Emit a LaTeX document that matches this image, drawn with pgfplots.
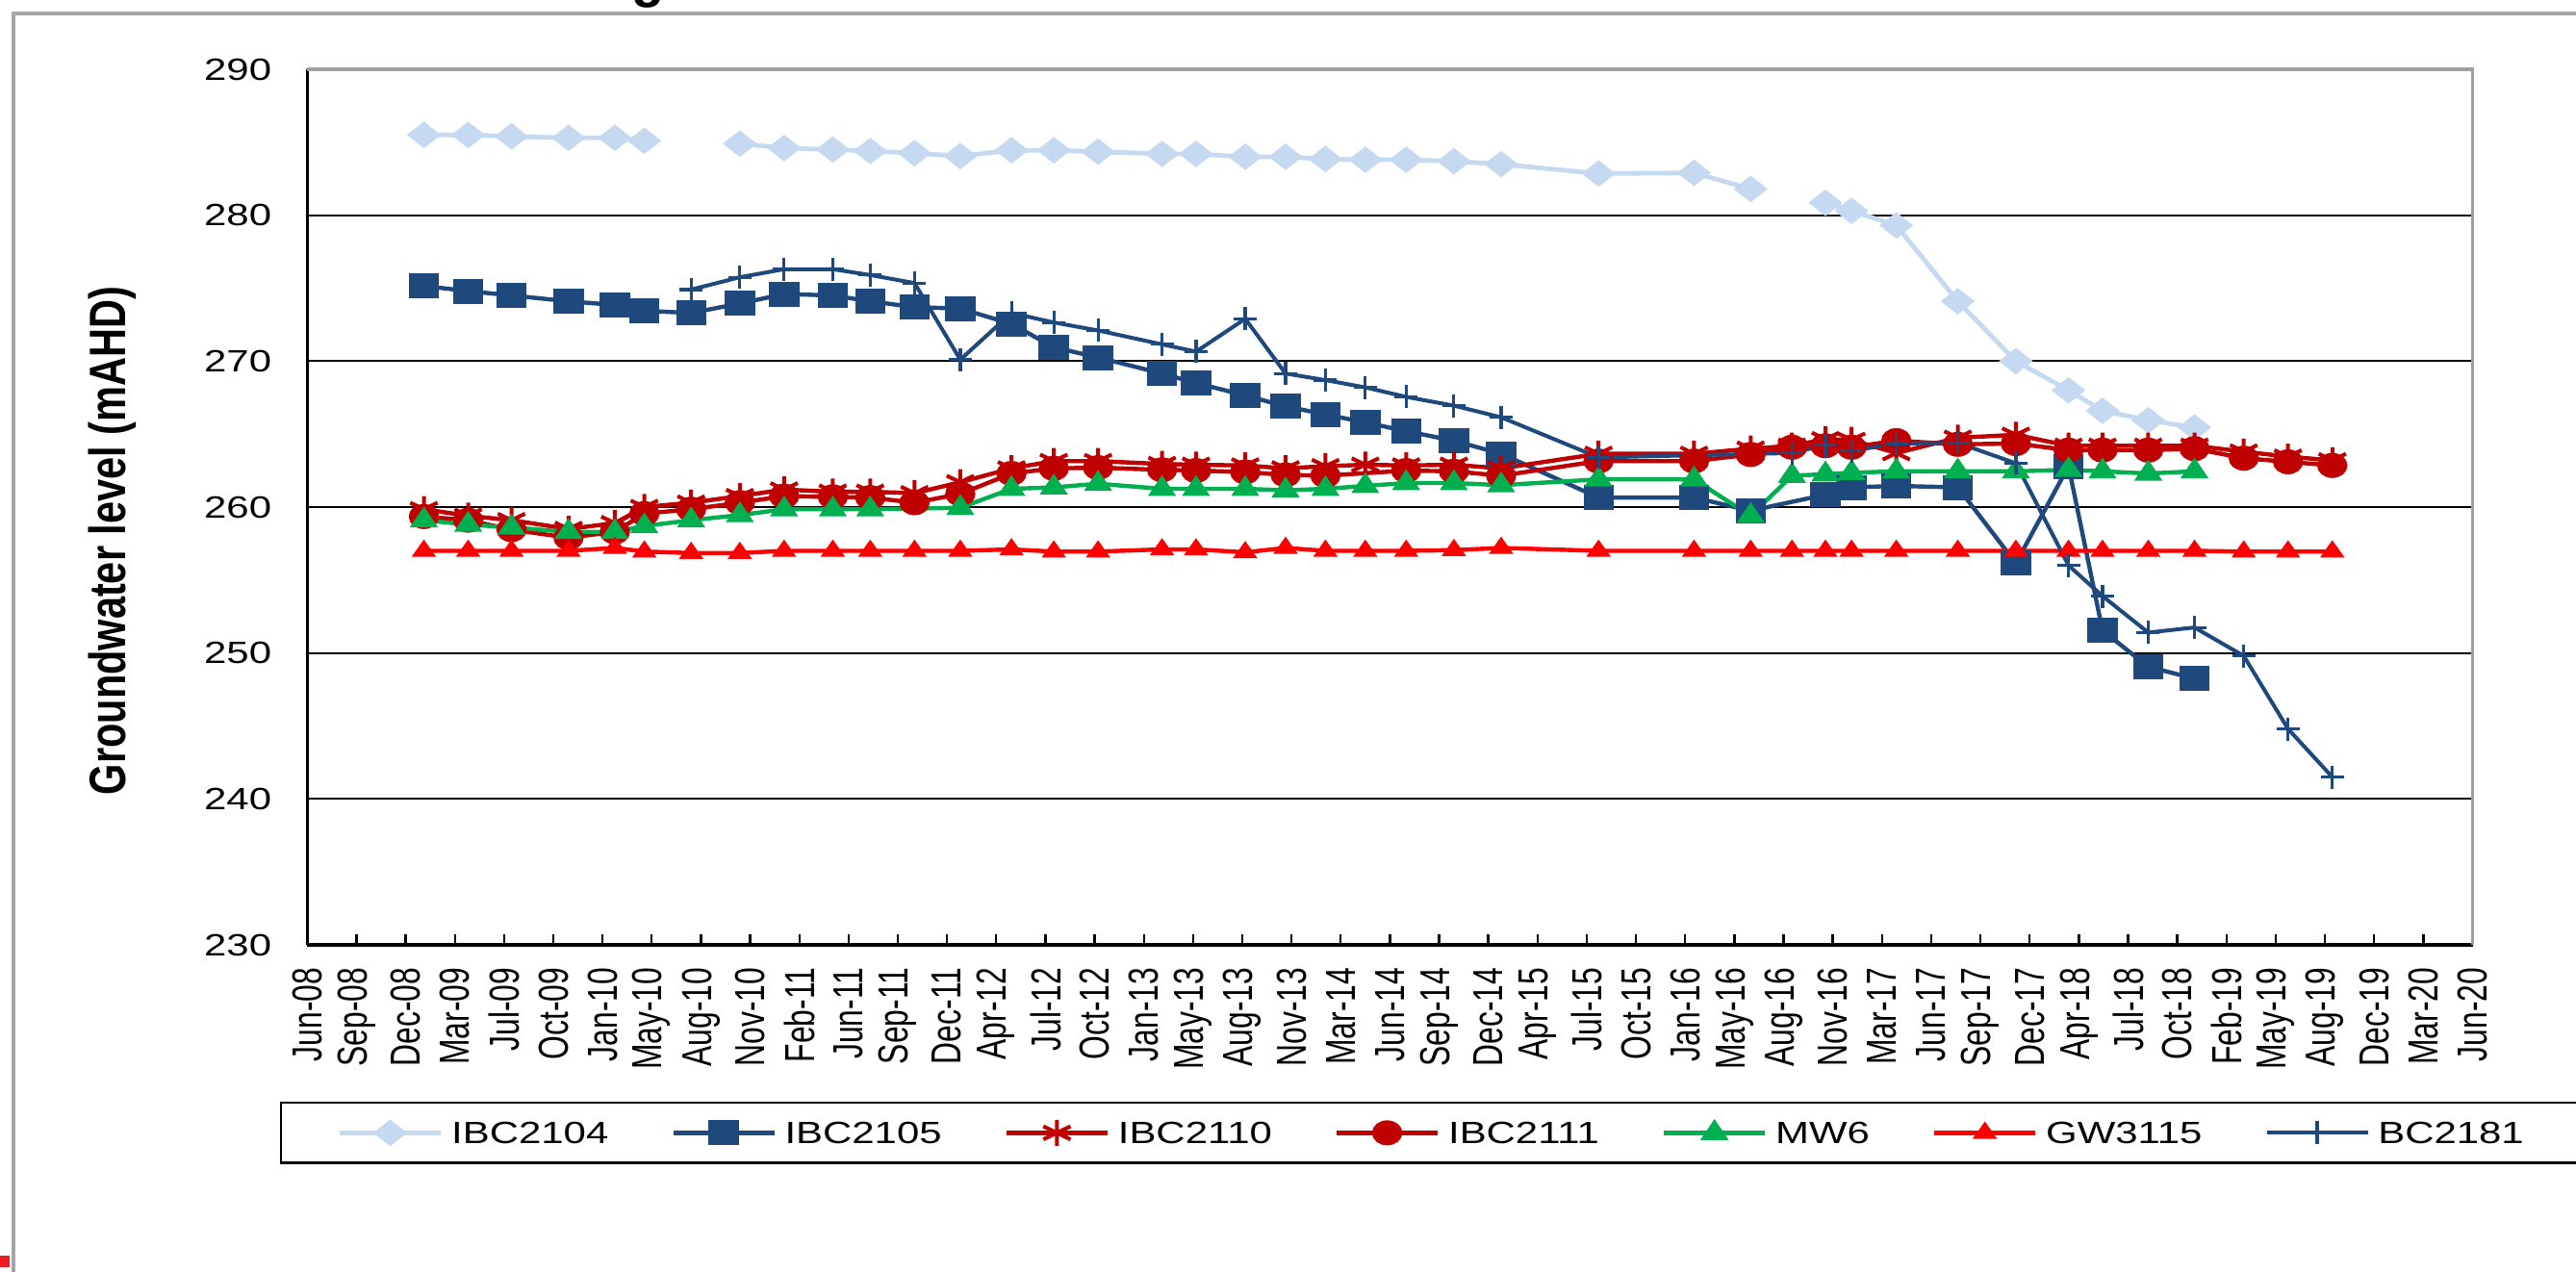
\documentclass[border=0pt]{standalone}
\usepackage{fontspec}
\setmainfont{Liberation Sans}
\newfontfamily\hfont[FakeStretch=1.31]{Liberation Sans}
\newfontfamily\vfont[FakeStretch=0.73]{Liberation Sans}
\newfontfamily\lfont[FakeStretch=0.78]{Liberation Sans}
\usepackage{pgfplots}
\pgfplotsset{compat=1.18}
\definecolor{cA}{RGB}{197,217,241}
\definecolor{cB}{RGB}{31,73,125}
\definecolor{cC}{RGB}{192,0,0}
\definecolor{cE}{RGB}{0,176,80}
\definecolor{cF}{RGB}{255,0,0}
\definecolor{frameg}{RGB}{160,160,160}
\definecolor{outerg}{RGB}{166,166,166}
\definecolor{redmark}{RGB}{237,28,36}
\begin{document}
\begin{tikzpicture}
\useasboundingbox (0,0) rectangle (669.25bp,330.5bp);
\fill[white] (0,0) rectangle (669.25bp,330.5bp);
\draw[outerg, line width=1bp] (3.4bp,0) -- (3.4bp,327.1bp) -- (669.25bp,327.1bp);
\fill[redmark] (0,1.25bp) rectangle (2.5bp,4.25bp);
\node[anchor=south, inner sep=0pt, outer sep=0pt, font=\bfseries\fontsize{14bp}{16bp}\selectfont] at (168.5bp,328.3bp) {g};
\begin{axis}[
  at={(79.825bp,85bp)}, anchor=south west,
  scale only axis, width=562.55bp, height=227.5bp,
  xmin=0, xmax=44, ymin=230, ymax=290,
  axis x line*=bottom, axis y line*=left,
  axis line style={black, line width=0.9bp},
  clip=false,
  unbounded coords=jump,
  xtick={0,...,44},
  xticklabels={Jun-08,Sep-08,Dec-08,Mar-09,Jul-09,Oct-09,Jan-10,May-10,Aug-10,Nov-10,Feb-11,Jun-11,Sep-11,Dec-11,Apr-12,Jul-12,Oct-12,Jan-13,May-13,Aug-13,Nov-13,Mar-14,Jun-14,Sep-14,Dec-14,Apr-15,Jul-15,Oct-15,Jan-16,May-16,Aug-16,Nov-16,Mar-17,Jun-17,Sep-17,Dec-17,Apr-18,Jul-18,Oct-18,Feb-19,May-19,Aug-19,Dec-19,Mar-20,Jun-20},
  tick align=inside,
  major tick length=2.75bp,
  xtick style={black, line width=0.6bp},
  xticklabel style={rotate=90, anchor=east, inner sep=0pt, font=\vfont\fontsize{10.9bp}{12bp}\selectfont},
  xticklabel shift=5.75bp,
  ytick={230,240,...,290},
  ytick style={draw=none},
  /pgf/number format/assume math mode=true,
  yticklabel style={anchor=east, inner sep=0pt, font=\hfont\fontsize{8bp}{9.6bp}\selectfont},
  yticklabel shift=9.1bp,
  ymajorgrids,
  major grid style={black, line width=0.5bp},
  ylabel={Groundwater level (mAHD)},
  ylabel style={at={(axis description cs:-0.0899,0.4615)}, anchor=center, rotate=0, inner sep=0pt, font=\lfont\bfseries\fontsize{13.3bp}{15bp}\selectfont},
  legend columns=7,
  legend image code/.code={\draw[mark repeat=2,mark phase=2,#1] plot coordinates {(0bp,0bp) (13.125bp,0bp) (26.25bp,0bp)};},
  legend style={at={(-0.01258,-0.1791)}, anchor=north west,
    draw=black, line width=0.6bp, fill=white,
    inner xsep=14.6bp, inner ysep=4.4bp,
    font=\hfont\fontsize{8bp}{9.6bp}\selectfont,
    nodes={inner sep=0pt, text depth=0pt},
    cells={anchor=west},
    /tikz/every even column/.append style={column sep=16.25bp},
    /tikz/every odd column/.append style={column sep=2.2bp}},
]
\addplot[color=cA, line width=1.2bp, mark=diamond*, mark size=2.7bp, mark options={solid, xscale=1.7}] coordinates {
(2.37,285.5)(3.27,285.5)(4.15,285.4)(5.31,285.3)(6.25,285.3)(6.85,285.1)(7.5,nan)(8.79,284.9)(9.69,284.6)(10.68,284.5)(11.44,284.4)(12.34,284.25)(13.27,284.05)(14.31,284.45)(15.17,284.45)(16.07,284.35)(17.37,284.2)(18.06,284.2)(19.06,284.0)(19.88,284.0)(20.69,283.85)(21.50,283.8)(22.33,283.8)(23.30,283.7)(24.26,283.5)(26.24,282.85)(28.18,282.9)(29.33,281.8)(30.0,nan)(30.85,280.85)(31.38,280.3)(32.29,279.3)(33.54,274.1)(34.72,270.0)(35.79,268.0)(36.48,266.6)(37.41,265.95)(38.35,265.45)};
\addlegendentry{IBC2104}
\addplot[color=cB, line width=1.1bp, mark=square*, mark size=2.7bp, mark options={solid, xscale=1.25}] coordinates {
(2.37,275.15)(3.27,274.8)(4.15,274.5)(5.31,274.1)(6.25,273.85)(6.85,273.45)(7.80,273.3)(8.79,273.95)(9.69,274.6)(10.68,274.5)(11.44,274.1)(12.34,273.7)(13.27,273.6)(14.31,272.55)(15.17,270.95)(16.07,270.25)(17.37,269.15)(18.06,268.5)(19.06,267.65)(19.88,266.9)(20.69,266.35)(21.50,265.8)(22.33,265.2)(23.30,264.55)(24.26,263.65)(26.24,260.65)(28.18,260.65)(29.33,259.75)(30.85,260.85)(31.38,261.35)(32.29,261.45)(33.54,261.35)(34.72,256.15)(35.79,262.8)(36.48,251.55)(37.41,249.05)(38.35,248.25)};
\addlegendentry{IBC2105}
\addplot[color=cC, line width=1.1bp, mark=asterisk, mark size=3.4bp, mark options={solid, xscale=1.2, line width=1bp}] coordinates {
(2.37,259.85)(3.27,259.4)(4.15,259.1)(5.31,258.5)(6.25,258.9)(6.85,260.0)(7.80,260.3)(8.79,260.75)(9.69,261.2)(10.68,261.05)(11.44,261.05)(12.34,260.95)(13.27,261.7)(14.31,262.65)(15.17,263.15)(16.07,263.15)(17.37,262.95)(18.06,262.9)(19.06,262.85)(19.88,262.65)(20.69,262.8)(21.50,262.9)(22.33,262.85)(23.30,262.9)(24.26,262.65)(26.24,263.65)(28.18,263.65)(29.33,264.0)(30.17,264.2)(30.85,264.65)(31.38,264.6)(32.29,263.7)(33.54,264.75)(34.72,264.95)(35.79,264.2)(36.48,264.2)(37.41,264.2)(38.35,264.2)(39.35,263.8)(40.25,263.45)(41.15,263.2)};
\addlegendentry{IBC2110}
\addplot[color=cC, line width=1.1bp, mark=*, mark size=2.7bp, mark options={solid, xscale=1.25}] coordinates {
(2.37,259.35)(3.27,259.1)(4.15,258.45)(5.31,257.9)(6.25,258.3)(6.85,259.55)(7.80,259.85)(8.79,260.3)(9.69,260.75)(10.68,260.7)(11.44,260.65)(12.34,260.3)(13.27,260.9)(14.31,262.3)(15.17,262.65)(16.07,262.7)(17.37,262.55)(18.06,262.5)(19.06,262.4)(19.88,262.2)(20.69,262.15)(22.33,262.5)(23.30,262.45)(24.26,262.15)(26.24,263.15)(28.18,263.15)(29.33,263.6)(30.17,264.1)(30.85,264.2)(31.38,264.1)(32.29,264.55)(33.54,264.3)(34.72,264.35)(35.79,263.9)(36.48,263.9)(37.41,263.9)(38.35,264.0)(39.35,263.35)(40.25,263.1)(41.15,262.85)};
\addlegendentry{IBC2111}
\addplot[color=cE, line width=1.1bp, mark=triangle*, mark size=2.6bp, mark options={solid, xscale=1.17}] coordinates {
(2.37,259.1)(3.27,258.8)(4.15,258.6)(5.31,258.3)(6.25,258.3)(6.85,258.7)(7.80,259.1)(8.79,259.45)(9.69,259.85)(10.68,259.85)(11.44,259.85)(13.27,259.95)(14.31,261.25)(15.17,261.35)(16.07,261.6)(17.37,261.25)(18.06,261.25)(19.06,261.25)(19.88,261.15)(20.69,261.25)(21.50,261.45)(22.33,261.65)(23.30,261.65)(24.26,261.5)(26.24,261.9)(28.18,261.9)(29.33,259.4)(30.17,262.15)(30.85,262.25)(31.38,262.35)(32.29,262.45)(33.54,262.45)(34.72,262.45)(35.79,262.55)(36.48,262.45)(37.41,262.3)(38.35,262.45)};
\addlegendentry{MW6}
\addplot[color=cF, line width=1.1bp, mark=triangle*, mark size=2.0bp, mark options={solid, xscale=1.23}] coordinates {
(2.37,257.0)(3.27,257.0)(4.15,257.0)(5.31,257.0)(6.25,257.2)(6.85,256.95)(7.80,256.85)(8.79,256.85)(9.69,257.0)(10.68,257.0)(11.44,257.0)(12.34,257.0)(13.27,257.0)(14.31,257.1)(15.17,256.95)(16.07,256.95)(17.37,257.1)(18.06,257.1)(19.06,256.9)(19.88,257.2)(20.69,257.0)(21.50,257.0)(22.33,257.0)(23.30,257.05)(24.26,257.2)(26.24,257.0)(28.18,257.0)(29.33,257.0)(30.17,257.0)(30.85,257.0)(31.38,257.0)(32.29,257.0)(33.54,257.0)(34.72,257.0)(35.79,257.0)(36.48,257.0)(37.41,257.0)(38.35,257.0)(39.35,256.95)(40.25,256.95)(41.15,256.95)};
\addlegendentry{GW3115}
\addplot[color=cB, line width=1bp, mark=+, mark size=3bp, mark options={solid, line width=0.8bp}] coordinates {
(7.80,274.9)(8.79,275.75)(9.69,276.3)(10.68,276.3)(11.44,275.9)(12.34,275.35)(13.27,270.1)(14.31,273.3)(15.17,272.65)(16.07,272.1)(17.37,271.15)(18.06,270.65)(19.06,272.9)(19.88,269.15)(20.69,268.7)(21.50,268.2)(22.33,267.55)(23.30,266.95)(24.26,266.15)(26.24,263.4)(30.17,263.7)(30.85,264.25)(31.38,263.85)(32.29,264.35)(33.54,264.4)(34.72,263.0)(35.79,256.0)(36.48,253.9)(37.41,251.4)(38.35,251.75)(39.35,249.8)(40.25,244.8)(41.15,241.5)};
\addlegendentry{BC2181}
\draw[frameg, line width=0.9bp] (rel axis cs:0,1) -- (rel axis cs:1,1) -- (rel axis cs:1,0);
\end{axis}
\end{tikzpicture}
\end{document}
